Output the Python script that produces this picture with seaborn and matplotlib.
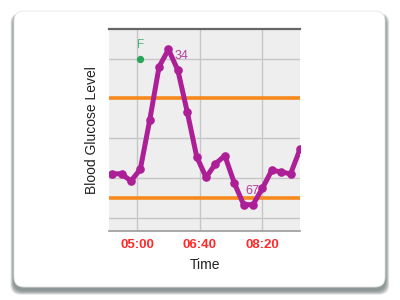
import matplotlib
matplotlib.use("Agg")
import matplotlib.pyplot as plt
import seaborn as sns
import pandas as pd
from matplotlib.patches import FancyBboxPatch

# ---- data ----
times_min = [260 + 15 * i for i in range(21)]  # 04:20 .. 09:20, every 15 min
glucose = [97, 97, 89, 102, 156, 215, 234, 211, 165, 116, 93, 108, 117, 87,
           63, 63, 81, 101, 99, 97, 124]
range_lines = [180, 70]
grid_y = [48, 92, 136, 180, 224]
x_ticks = [300, 400, 500]
x_tick_labels = ["05:00", "06:40", "08:20"]
event_time = [305]
event_value = [224]
event_label = ["F"]
peak_label = "34"
min_label = "67"

df = pd.DataFrame({"time": times_min, "glucose": glucose})

sns.set_theme(style="white")
plt.rcParams["font.family"] = ["Liberation Sans", "DejaVu Sans"]

fig = plt.figure(figsize=(4, 3), dpi=100)
fig.patch.set_facecolor("white")

# ---- card background with shadow ----
bg = fig.add_axes([0, 0, 1, 1], zorder=0)
bg.set_xlim(0, 400)
bg.set_ylim(300, 0)
bg.axis("off")
for i in range(7, 0, -1):
    bg.add_patch(FancyBboxPatch((14 - i * 0.5, 11 + 3.5 - i * 0.2), 371 + i * 1.1, 276 + i * 0.8,
                                boxstyle="round,pad=0,rounding_size=10",
                                facecolor="#5f6b69", edgecolor="none", alpha=0.15))
bg.add_patch(FancyBboxPatch((14, 11), 371, 276, boxstyle="round,pad=0,rounding_size=10",
                            facecolor="white", edgecolor="#e6e6e6", linewidth=0.6))

# ---- main chart ----
ax = fig.add_axes([109 / 400, 1 - 231 / 300, 191 / 400, 202 / 300], zorder=1)
ax.set_facecolor("#eeeeee")
ax.set_xlim(255, 560)
ax.set_ylim(34, 256.5)

ax.set_xticks(x_ticks)
ax.set_xticklabels(x_tick_labels)
ax.set_yticks(grid_y)
ax.set_yticklabels([])
ax.grid(True, color="#c6c6c6", linewidth=1.0)
ax.set_axisbelow(True)

for y in range_lines:
    ax.axhline(y, color="#f7891c", linewidth=2.6, zorder=2)

line_color = "#ad1f96"
sns.lineplot(data=df, x="time", y="glucose", ax=ax, color=line_color,
             linewidth=3.6, marker="o", markersize=6.2, markeredgewidth=0,
             zorder=3)
for ln in ax.lines[-1:]:
    ln.set_solid_joinstyle("round")
    ln.set_solid_capstyle("round")

ax.scatter(event_time, event_value, color="#27a65a", s=28, zorder=4, linewidths=0)
ax.annotate(event_label[0], (event_time[0], event_value[0]), xytext=(0, 9.8),
            textcoords="offset points", ha="center", va="center",
            color="#4cb67c", fontsize=8.5)

imax = glucose.index(max(glucose))
imin = glucose.index(min(glucose))
ax.annotate(peak_label, (times_min[imax], glucose[imax]), xytext=(4.6, -4.7),
            textcoords="offset points", ha="left", va="center",
            color="#b3409e", fontsize=9, zorder=2.5)
ax.annotate(min_label, (times_min[imin], glucose[imin]), xytext=(1.6, 10),
            textcoords="offset points", ha="left", va="center",
            color="#b3409e", fontsize=9, zorder=2.5)

for s in ["left", "right"]:
    ax.spines[s].set_visible(False)
ax.spines["top"].set_color("#666666")
ax.spines["top"].set_linewidth(1.6)
ax.spines["bottom"].set_color("#9a9a9a")
ax.spines["bottom"].set_linewidth(1.2)

ax.tick_params(axis="both", length=0)
ax.tick_params(axis="x", pad=6)
for lbl in ax.get_xticklabels():
    lbl.set_color("#ff2a2a")
    lbl.set_fontweight("bold")
    lbl.set_fontsize(9.5)

ax.set_xlabel("Time", fontsize=10, color="#222222", labelpad=5)
ax.set_ylabel("Blood Glucose Level", fontsize=10, color="#222222", labelpad=4)

fig.savefig("out.png", dpi=100, facecolor="white")
